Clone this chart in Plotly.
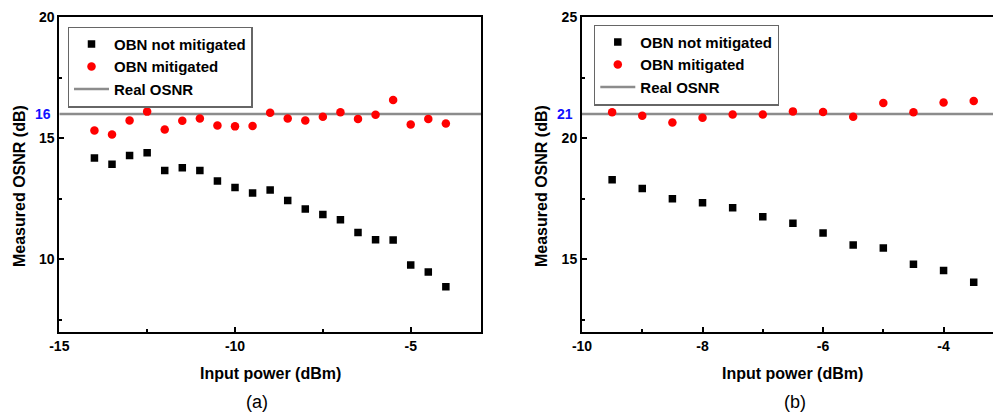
import plotly.graph_objects as go

# ---------- data ----------
power_a = [-14, -13.5, -13, -12.5, -12, -11.5, -11, -10.5, -10, -9.5, -9,
           -8.5, -8, -7.5, -7, -6.5, -6, -5.5, -5, -4.5, -4]
not_mitigated_a = [14.18, 13.92, 14.29, 14.40, 13.67, 13.78, 13.67, 13.23, 12.96, 12.73, 12.86,
                   12.42, 12.07, 11.85, 11.63, 11.10, 10.80, 10.79, 9.76, 9.47, 8.86]
mitigated_a = [15.32, 15.15, 15.73, 16.10, 15.36, 15.72, 15.82, 15.53, 15.49, 15.51, 16.05,
               15.82, 15.73, 15.89, 16.07, 15.80, 15.97, 16.58, 15.57, 15.80, 15.61]
real_osnr_a = 16

power_b = [-9.5, -9, -8.5, -8, -7.5, -7, -6.5, -6, -5.5, -5, -4.5, -4, -3.5]
not_mitigated_b = [18.28, 17.92, 17.50, 17.33, 17.12, 16.75, 16.48, 16.08, 15.58, 15.46, 14.79, 14.53, 14.04]
mitigated_b = [21.07, 20.93, 20.65, 20.85, 20.98, 20.98, 21.11, 21.08, 20.89, 21.46, 21.07, 21.48, 21.54]
real_osnr_b = 21

xticks_a = [-15, -10, -5]
xticklabels_a = ["-15", "-10", "-5"]
yticks_a = [10, 15, 20]
xticks_b = [-10, -8, -6, -4]
xticklabels_b = ["-10", "-8", "-6", "-4"]
yticks_b = [15, 20, 25]

xrange_a = [-15, -3]
yrange_a = [7, 20]
xrange_b = [-10, -3.18]
yrange_b = [12, 25]

W, H = 993, 414
FONT = "Liberation Sans, Arial, sans-serif"

def px(x):
    return x / W

def py(y):
    return 1 - y / H

fig = go.Figure()

def add_panel(xs, nm, mit, real, xr, xa, ya, leg):
    fig.add_trace(go.Scatter(x=xr, y=[real, real], mode="lines", name="Real OSNR",
                             line=dict(color="#8c8c8c", width=2.5), xaxis=xa, yaxis=ya,
                             legend=leg, legendrank=3, cliponaxis=True))
    fig.add_trace(go.Scatter(x=xs, y=nm, mode="markers", name="OBN not mitigated",
                             marker=dict(symbol="square", size=7.5, color="black"),
                             xaxis=xa, yaxis=ya, legend=leg, legendrank=1))
    fig.add_trace(go.Scatter(x=xs, y=mit, mode="markers", name="OBN mitigated",
                             marker=dict(symbol="circle", size=8.5, color="#ff0000"),
                             xaxis=xa, yaxis=ya, legend=leg, legendrank=2))

add_panel(power_a, not_mitigated_a, mitigated_a, real_osnr_a, xrange_a, "x", "y", "legend")
add_panel(power_b, not_mitigated_b, mitigated_b, real_osnr_b, xrange_b, "x2", "y2", "legend2")

tickfont = dict(family=FONT, size=14, color="black", weight="bold")
axis_common = dict(showgrid=False, zeroline=False, showline=True, linecolor="black",
                   linewidth=2, ticks="inside", ticklen=5, tickwidth=2, tickcolor="black",
                   tickfont=tickfont, automargin=False, tickmode="array")

def minor(d):
    return dict(tickmode="linear", dtick=d, tick0=0, ticks="inside", ticklen=3,
                tickwidth=2, tickcolor="black")

legend_font = dict(family=FONT, size=15, color="black", weight="bold")
ydom = [py(331.7), py(17.3)]
fig.update_layout(
    width=W, height=H, autosize=False,
    margin=dict(l=0, r=0, t=0, b=0, pad=0),
    paper_bgcolor="white", plot_bgcolor="white",
    xaxis=dict(domain=[px(59.3), px(481)], range=xrange_a, tickvals=xticks_a,
               ticktext=xticklabels_a, minor=minor(2.5), mirror=True, anchor="y", **axis_common),
    yaxis=dict(domain=ydom, range=yrange_a, tickvals=yticks_a, ticktext=[str(v) for v in yticks_a],
               minor=minor(2.5), mirror=True, anchor="x", **axis_common),
    xaxis2=dict(domain=[px(582), 1.0], range=xrange_b, tickvals=xticks_b,
                ticktext=xticklabels_b, minor=minor(1), mirror=True, anchor="y2", **axis_common),
    yaxis2=dict(domain=ydom, range=yrange_b, tickvals=yticks_b, ticktext=[str(v) for v in yticks_b],
                minor=minor(2.5), mirror=False, anchor="x2", **axis_common),
    legend=dict(x=px(67.7), y=py(26.5), xanchor="left", yanchor="top",
                bordercolor="#666", borderwidth=1.3, bgcolor="white",
                font=legend_font, tracegroupgap=0, itemwidth=35),
    legend2=dict(x=px(594), y=py(24.5), xanchor="left", yanchor="top",
                 bordercolor="#666", borderwidth=1.3, bgcolor="white",
                 font=legend_font, tracegroupgap=0, itemwidth=35),
    showlegend=True,
)

title_font = dict(family=FONT, size=16, color="black", weight="bold")
annots = [
    dict(text="Input power (dBm)", x=px(270), y=py(373), font=title_font),
    dict(text="Input power (dBm)", x=px(792), y=py(373), font=title_font),
    dict(text="Measured OSNR (dB)", x=px(19), y=py(186), font=title_font, textangle=-90),
    dict(text="Measured OSNR (dB)", x=px(541), y=py(186), font=title_font, textangle=-90),
    dict(text="(a)", x=px(257), y=py(402), font=dict(family=FONT, size=18, color="black")),
    dict(text="(b)", x=px(795), y=py(402), font=dict(family=FONT, size=18, color="black")),
]
for a in annots:
    fig.add_annotation(xref="paper", yref="paper", showarrow=False,
                       xanchor="center", yanchor="middle", **a)

fig.add_annotation(text="16", xref="paper", yref="y", x=px(53), y=real_osnr_a,
                   xanchor="right", yanchor="middle", showarrow=False,
                   font=dict(family=FONT, size=14, color="#1010ff", weight="bold"))
fig.add_annotation(text="21", xref="paper", yref="y2", x=px(575), y=real_osnr_b,
                   xanchor="right", yanchor="middle", showarrow=False,
                   font=dict(family=FONT, size=14, color="#1010ff", weight="bold"))

fig.write_html("out.html", config={"displayModeBar": False},
               post_script="document.body.style.margin='0';document.body.style.overflow='hidden';")
